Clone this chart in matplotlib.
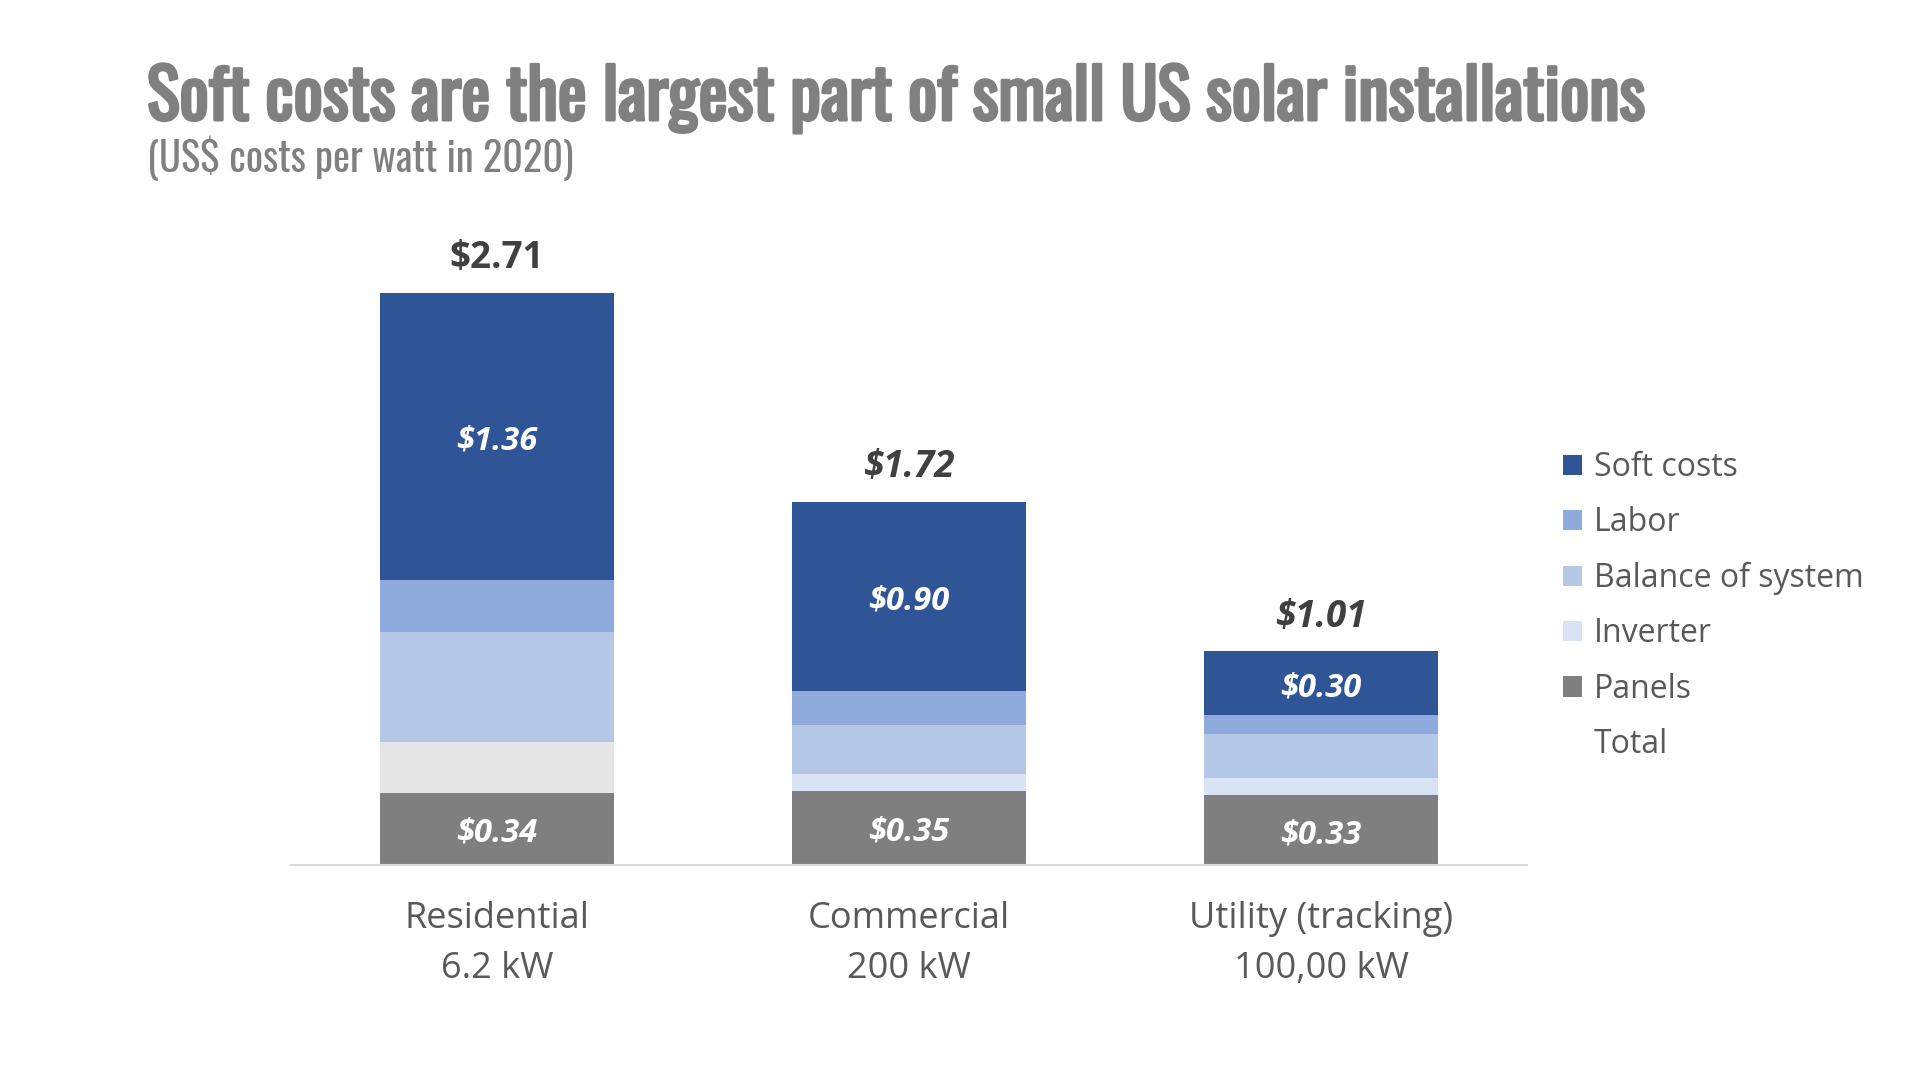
import matplotlib
matplotlib.use("Agg")
import matplotlib.pyplot as plt
import matplotlib.patheffects as pe
from matplotlib import font_manager as fm
from matplotlib.patches import Patch

# ---------------------------------------------------------------
# Data (US$ per watt, 2020)
# ---------------------------------------------------------------
categories = ["Residential\n6.2 kW", "Commercial\n200 kW", "Utility (tracking)\n100,00 kW"]
panels = [0.34, 0.35, 0.33]
inverter = [0.24, 0.08, 0.08]
balance_of_system = [0.52, 0.23, 0.21]
labor = [0.25, 0.16, 0.09]
soft_costs = [1.36, 0.90, 0.30]
totals = [2.71, 1.72, 1.01]

title = "Soft costs are the largest part of small US solar installations"
subtitle = "(US$ costs per watt in 2020)"

# ---------------------------------------------------------------
# Colours / fonts
# ---------------------------------------------------------------
C = {
    "soft": "#2f5597",
    "labor": "#8faadc",
    "bos": "#b4c7e7",
    "inverter": "#dae3f3",
    "inverter_res": "#e7e6e6",
    "panels": "#7f7f7f",
    "title": "#808080",
    "text": "#595959",
    "total": "#404040",
    "axis": "#d9d9d9",
}

names = {f.name for f in fm.fontManager.ttflist}
BODY = "Open Sans" if "Open Sans" in names else "Noto Sans"


def pick_condensed():
    for n in ["Oswald", "Liberation Sans Narrow", "Roboto Condensed",
              "Open Sans Condensed", "DejaVu Sans Condensed"]:
        if n in names:
            return n, "normal"
    for f in fm.fontManager.ttflist:
        if f.stretch in ("condensed", "semi-condensed", "extra-condensed"):
            return f.name, f.stretch
    return "DejaVu Sans", "normal"


COND, COND_STRETCH = pick_condensed()

W, H = 1920, 1080
fig = plt.figure(figsize=(W / 100, H / 100), dpi=100)
fig.patch.set_facecolor("white")

# axes placed so baseline sits at y=864 px and bars span x 291..1527 px
ax = fig.add_axes([291 / W, 1 - 864.5 / H, (1527 - 291) / W, 633 / H])
x = range(len(categories))
bar_w = 0.57

layers = [
    ("Panels", panels, [C["panels"]] * 3),
    ("Inverter", inverter, [C["inverter_res"], C["inverter"], C["inverter"]]),
    ("Balance of system", balance_of_system, [C["bos"]] * 3),
    ("Labor", labor, [C["labor"]] * 3),
    ("Soft costs", soft_costs, [C["soft"]] * 3),
]

bottom = [0.0] * len(categories)
for name, vals, cols in layers:
    ax.bar(x, vals, width=bar_w, bottom=bottom, color=cols, linewidth=0)
    if name in ("Panels", "Soft costs"):
        for i, v in enumerate(vals):
            ax.annotate(f"${v:.2f}", (i, bottom[i] + v / 2), xytext=(0, -3.5),
                        textcoords="offset points", ha="center", va="center",
                        fontsize=23.5, fontweight="bold", fontstyle="italic",
                        color="white", family=BODY)
    bottom = [b + v for b, v in zip(bottom, vals)]

for i, t in enumerate(totals):
    ax.annotate(f"${t:.2f}", (i, bottom[i]), xytext=(0, 25), textcoords="offset points",
                ha="center", va="center", fontsize=26.5, fontweight="bold",
                fontstyle="normal" if i == 0 else "italic",
                color=C["total"], family=BODY)

ax.set_xlim(-0.5, 2.5)
ax.set_ylim(0, 3.0)
ax.set_xticks(list(x))
ax.set_xticklabels(categories, fontsize=26, color=C["text"], family=BODY,
                   linespacing=1.52)
ax.tick_params(axis="x", length=0, pad=26)
ax.set_yticks([])
for s in ("top", "right", "left"):
    ax.spines[s].set_visible(False)
ax.spines["bottom"].set_color(C["axis"])
ax.spines["bottom"].set_linewidth(1.5)
ax.set_facecolor("none")

# legend (top to bottom as in the original)
handles = [Patch(facecolor=C["soft"]), Patch(facecolor=C["labor"]),
           Patch(facecolor=C["bos"]), Patch(facecolor=C["inverter"]),
           Patch(facecolor=C["panels"]), Patch(facecolor="none", edgecolor="none")]
labels = ["Soft costs", "Labor", "Balance of system", "Inverter", "Panels", "Total"]
leg = fig.legend(handles, labels, loc="center left",
                 bbox_to_anchor=(1534 / W, 1 - 606 / H), frameon=False,
                 handlelength=0.6, handleheight=0.6,
                 handletextpad=0.38, labelspacing=0.70,
                 prop={"family": BODY, "size": 23})
for t in leg.get_texts():
    t.set_color(C["text"])

# title + subtitle, fitted to the original widths
t1 = fig.text(147 / W, 1 - 120 / H, title, fontsize=44, fontweight="bold",
              color=C["title"], family=COND, fontstretch=COND_STRETCH,
              ha="left", va="baseline",
              path_effects=[pe.Stroke(linewidth=2.2, foreground=C["title"])])
t2 = fig.text(147 / W, 1 - 172 / H, subtitle, fontsize=26, fontweight="light",
              color=C["title"], family=COND, fontstretch=COND_STRETCH,
              ha="left", va="baseline")

fig.canvas.draw()
r = fig.canvas.get_renderer()
for t, target in ((t1, 1498), (t2, 428)):
    w = t.get_window_extent(r).width
    t.set_fontsize(t.get_fontsize() * target / w)

fig.savefig("out.png", dpi=100, facecolor="white")
